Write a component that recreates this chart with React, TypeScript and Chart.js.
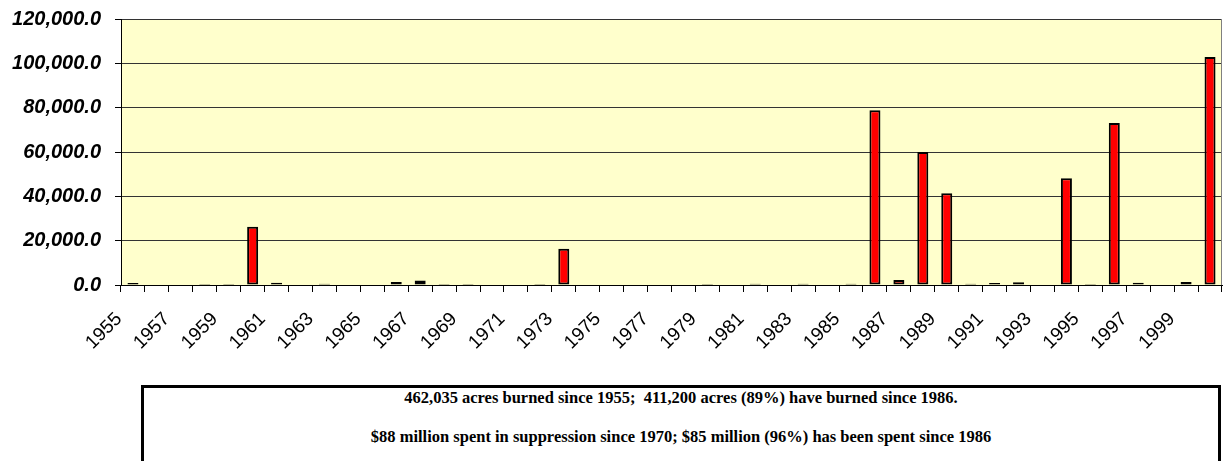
import { useEffect, useRef } from 'react';
import { Chart, registerables } from 'chart.js';

Chart.register(...registerables);

const years = [
  '1955', '1956', '1957', '1958', '1959', '1960', '1961', '1962', '1963', '1964',
  '1965', '1966', '1967', '1968', '1969', '1970', '1971', '1972', '1973', '1974',
  '1975', '1976', '1977', '1978', '1979', '1980', '1981', '1982', '1983', '1984',
  '1985', '1986', '1987', '1988', '1989', '1990', '1991', '1992', '1993', '1994',
  '1995', '1996', '1997', '1998', '1999', '2000',
];

const acresBurned = [
  900, 0, 0, 400, 500, 26300, 1000, 0, 600, 0,
  0, 1300, 2000, 500, 500, 0, 0, 500, 16400, 0,
  0, 0, 0, 0, 500, 0, 600, 0, 600, 0,
  600, 78800, 2300, 60000, 41400, 600, 900, 1200, 0, 48200,
  500, 73100, 1000, 0, 1400, 102900,
];

const yMin = 0;
const yMax = 120000;
const yStep = 20000;

const summaryLines = [
  '462,035 acres burned since 1955;  411,200 acres (89%) have burned since 1986.',
  '$88 million spent in suppression since 1970; $85 million (96%) has been spent since 1986',
];

const fmtY = (v: number) =>
  Number(v).toLocaleString('en-US', { minimumFractionDigits: 1, maximumFractionDigits: 1 });

const plotDecor = {
  id: 'plotDecor',
  beforeDraw(chart: any) {
    const { ctx, chartArea: a } = chart;
    ctx.save();
    ctx.fillStyle = '#FFFFCC';
    ctx.fillRect(a.left, a.top, a.right - a.left, a.bottom - a.top);
    ctx.restore();
  },
  beforeDatasetsDraw(chart: any) {
    const { ctx, chartArea: a } = chart;
    ctx.save();
    ctx.strokeStyle = '#808080';
    ctx.lineWidth = 1;
    ctx.beginPath();
    ctx.moveTo(Math.round(a.right) - 0.5, a.top);
    ctx.lineTo(Math.round(a.right) - 0.5, a.bottom);
    ctx.stroke();
    ctx.restore();
  },
};

export default function App() {
  const ref = useRef<HTMLCanvasElement>(null);

  useEffect(() => {
    if (!ref.current) return;
    const chart = new Chart(ref.current, {
      type: 'bar',
      data: {
        labels: years,
        datasets: [
          {
            data: acresBurned,
            backgroundColor: '#FF0000',
            borderColor: '#000000',
            borderWidth: 2,
            borderSkipped: false,
            barPercentage: 0.46,
            categoryPercentage: 1,
          },
        ],
      },
      options: {
        animation: false,
        responsive: false,
        devicePixelRatio: 1,
        layout: { padding: { top: 19, right: 2, left: 0, bottom: 0 } },
        plugins: { legend: { display: false }, tooltip: { enabled: false } },
        scales: {
          x: {
            grid: {
              display: true,
              drawOnChartArea: false,
              drawTicks: true,
              tickLength: 7,
              color: '#000000',
              offset: true,
            },
            border: { display: true, color: '#000000', width: 1 },
            ticks: {
              autoSkip: false,
              maxRotation: 45,
              minRotation: 45,
              padding: 16,
              labelOffset: -14,
              color: '#000000',
              font: { family: '"Liberation Sans", Arial, sans-serif', size: 19 },
              callback: (_v: any, i: number) => (i % 2 === 0 ? years[i] : ''),
            },
            afterFit: (s: any) => {
              s.height = 95;
              s.paddingLeft = 0;
              s.paddingRight = 0;
            },
          },
          y: {
            min: yMin,
            max: yMax,
            grid: { color: '#333333', tickLength: 6, tickColor: '#000000', drawTicks: true },
            border: { display: true, color: '#000000', width: 1 },
            ticks: {
              stepSize: yStep,
              padding: 14,
              color: '#000000',
              font: {
                family: '"Liberation Sans", Arial, sans-serif',
                size: 20,
                style: 'italic',
                weight: 'bold',
              },
              callback: (v: any) => fmtY(v),
            },
            afterFit: (s: any) => {
              s.width = 121;
              s.paddingTop = 0;
              s.paddingBottom = 0;
            },
          },
        },
      },
      plugins: [plotDecor],
    } as any);
    return () => chart.destroy();
  }, []);

  return (
    <div style={{ position: 'absolute', left: 0, top: 0, width: 1224, height: 461, background: '#fff', overflow: 'hidden' }}>
      <canvas ref={ref} width={1224} height={380} style={{ position: 'absolute', left: 0, top: 0, width: 1224, height: 380 }} />
      <div
        style={{
          position: 'absolute',
          left: 141,
          top: 385,
          width: 1080,
          height: 120,
          boxSizing: 'border-box',
          border: '3px solid #000',
          background: '#fff',
        }}
      />
      {summaryLines.map((t, i) => (
        <div
          key={i}
          style={{
            position: 'absolute',
            left: 141,
            width: 1080,
            top: i === 0 ? 390 : 429,
            textAlign: 'center',
            fontFamily: '"Liberation Serif", "Times New Roman", serif',
            fontWeight: 'bold',
            fontSize: 16.5,
            lineHeight: '16px',
            color: '#000',
            whiteSpace: 'pre',
          }}
        >
          {t}
        </div>
      ))}
    </div>
  );
}
